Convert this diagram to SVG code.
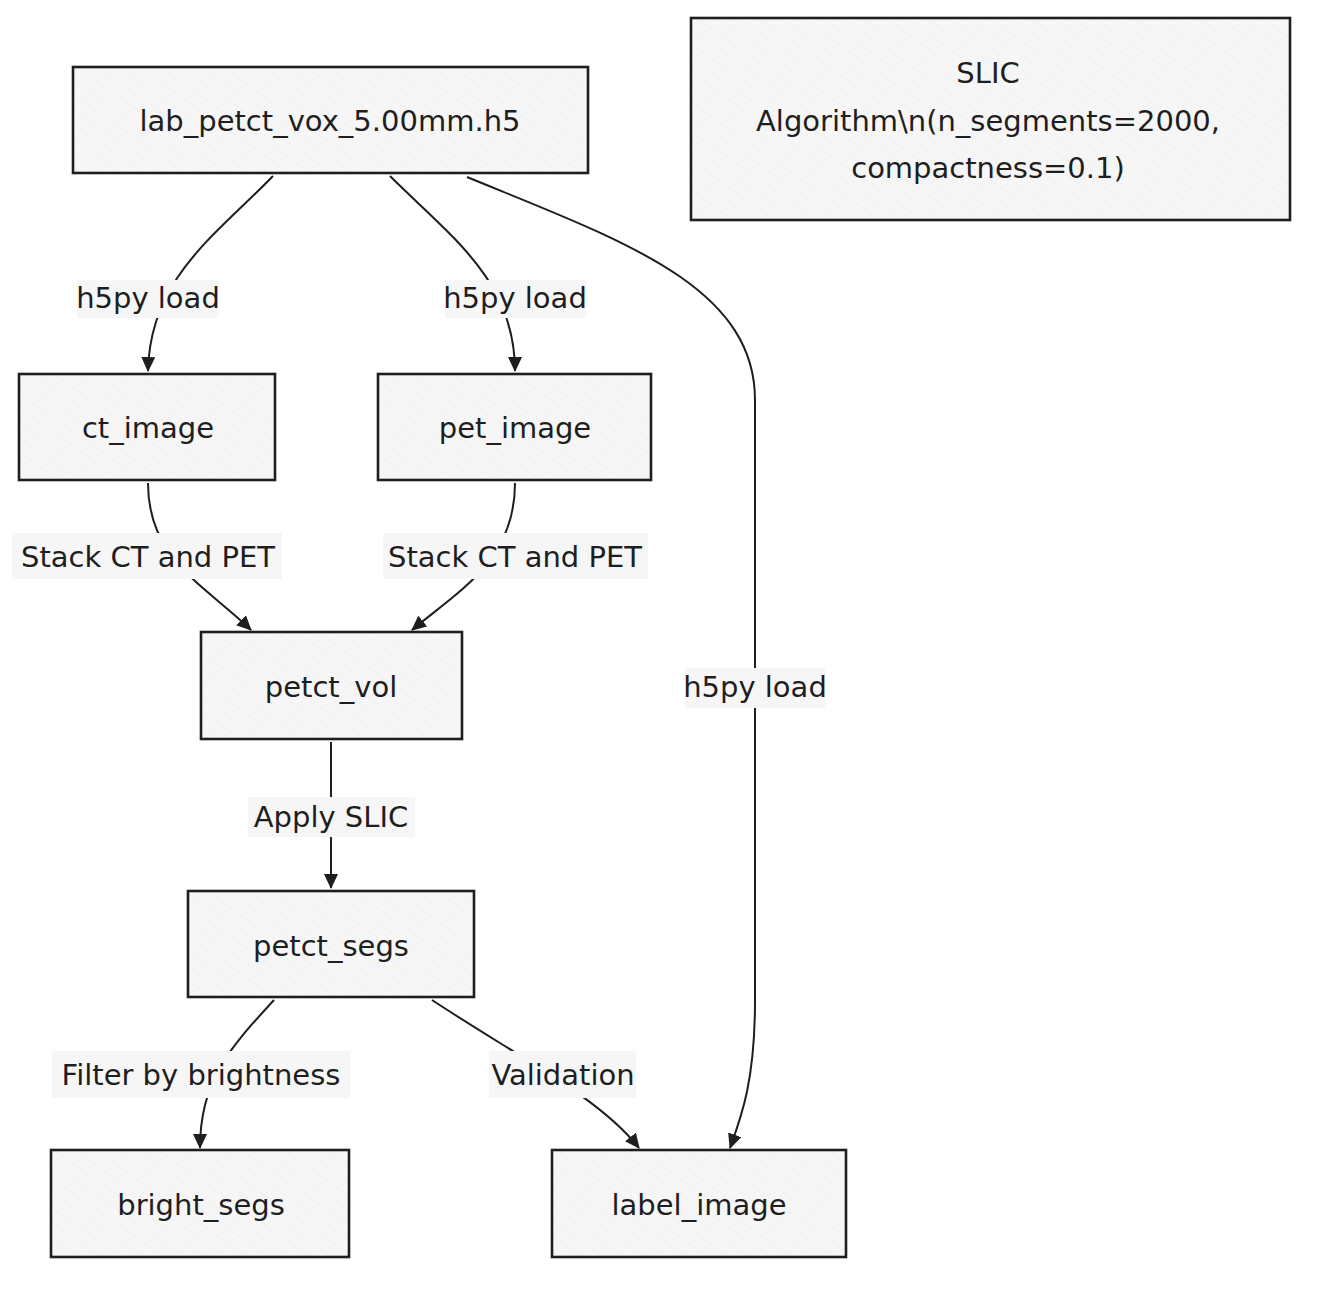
<svg xmlns="http://www.w3.org/2000/svg" width="1324" height="1292" viewBox="0 0 1324 1292">
<defs>
<style>
.node rect.box{fill:url(#hatch);stroke:#1e1e1e;stroke-width:2.6}
.node text{font-family:"DejaVu Sans","Noto Sans",sans-serif;font-size:29px;fill:#1e1e1e;text-anchor:middle;dominant-baseline:central}
.edges path{fill:none;stroke:#1e1e1e;stroke-width:2;marker-end:url(#arr)}
.lbl rect{fill:#f6f6f6;stroke:none}
.lbl text{font-family:"DejaVu Sans","Noto Sans",sans-serif;font-size:29px;fill:#1e1e1e;text-anchor:middle;dominant-baseline:central}
</style>
<pattern id="hatch" patternUnits="userSpaceOnUse" width="12" height="12" patternTransform="rotate(-55)">
<rect width="12" height="12" fill="#f6f6f6"/>
<line x1="0" y1="0" x2="0" y2="12" stroke="#eaeaea" stroke-width="1"/>
</pattern>
<marker id="arr" viewBox="0 0 15 14" refX="14" refY="7" markerWidth="15" markerHeight="14" markerUnits="userSpaceOnUse" orient="auto">
<path d="M0,0 L15,7 L0,14 Z" fill="#1e1e1e"/>
</marker>
</defs>
<rect width="1324" height="1292" fill="#ffffff"/>

<g class="edges" id="connectors">
<path d="M273,176 C215,236 150,278 148,371"/>
<path d="M390,176 C450,236 515,280 515,371"/>
<path d="M467,177 C620,240 755,285 755,400 L755,1000 C755,1080 742,1115 730,1148"/>
<path d="M148,483 C148,560 205,585 251,630"/>
<path d="M515,483 C515,560 460,590 412,630"/>
<path d="M331,742 L331,888"/>
<path d="M274,1000 C230,1048 200,1080 200,1148"/>
<path d="M432,1000 C520,1058 600,1098 639,1148"/>
</g>

<g class="lbl" id="edge-labels">
<rect x="77" y="280" width="141" height="38"/><text x="148" y="298">h5py load</text>
<rect x="445" y="280" width="141" height="38"/><text x="515" y="298">h5py load</text>
<rect x="12" y="533" width="270" height="46"/><text x="148" y="557">Stack CT and PET</text>
<rect x="383" y="533" width="265" height="46"/><text x="515" y="557">Stack CT and PET</text>
<rect x="685" y="668" width="140" height="40"/><text x="755" y="687">h5py load</text>
<rect x="248" y="797" width="167" height="40"/><text x="331" y="817">Apply SLIC</text>
<rect x="52" y="1051" width="298" height="47"/><text x="201" y="1075">Filter by brightness</text>
<rect x="489" y="1051" width="147" height="47"/><text x="563" y="1075">Validation</text>
</g>

<g class="node" id="node-h5">
<rect class="box" x="73" y="67" width="515" height="106"/>
<text x="330" y="121">lab_petct_vox_5.00mm.h5</text>
</g>
<g class="node" id="node-slic">
<rect class="box" x="691" y="18" width="599" height="202"/>
<text x="988" y="73">SLIC</text>
<text x="988" y="121">Algorithm\n(n_segments=2000,</text>
<text x="988" y="168">compactness=0.1)</text>
</g>
<g class="node" id="node-ct">
<rect class="box" x="19" y="374" width="256" height="106"/>
<text x="148" y="428">ct_image</text>
</g>
<g class="node" id="node-pet">
<rect class="box" x="378" y="374" width="273" height="106"/>
<text x="515" y="428">pet_image</text>
</g>
<g class="node" id="node-vol">
<rect class="box" x="201" y="632" width="261" height="107"/>
<text x="331" y="687">petct_vol</text>
</g>
<g class="node" id="node-segs">
<rect class="box" x="188" y="891" width="286" height="106"/>
<text x="331" y="946">petct_segs</text>
</g>
<g class="node" id="node-bright">
<rect class="box" x="51" y="1150" width="298" height="107"/>
<text x="201" y="1205">bright_segs</text>
</g>
<g class="node" id="node-label">
<rect class="box" x="552" y="1150" width="294" height="107"/>
<text x="699" y="1205">label_image</text>
</g>
</svg>
